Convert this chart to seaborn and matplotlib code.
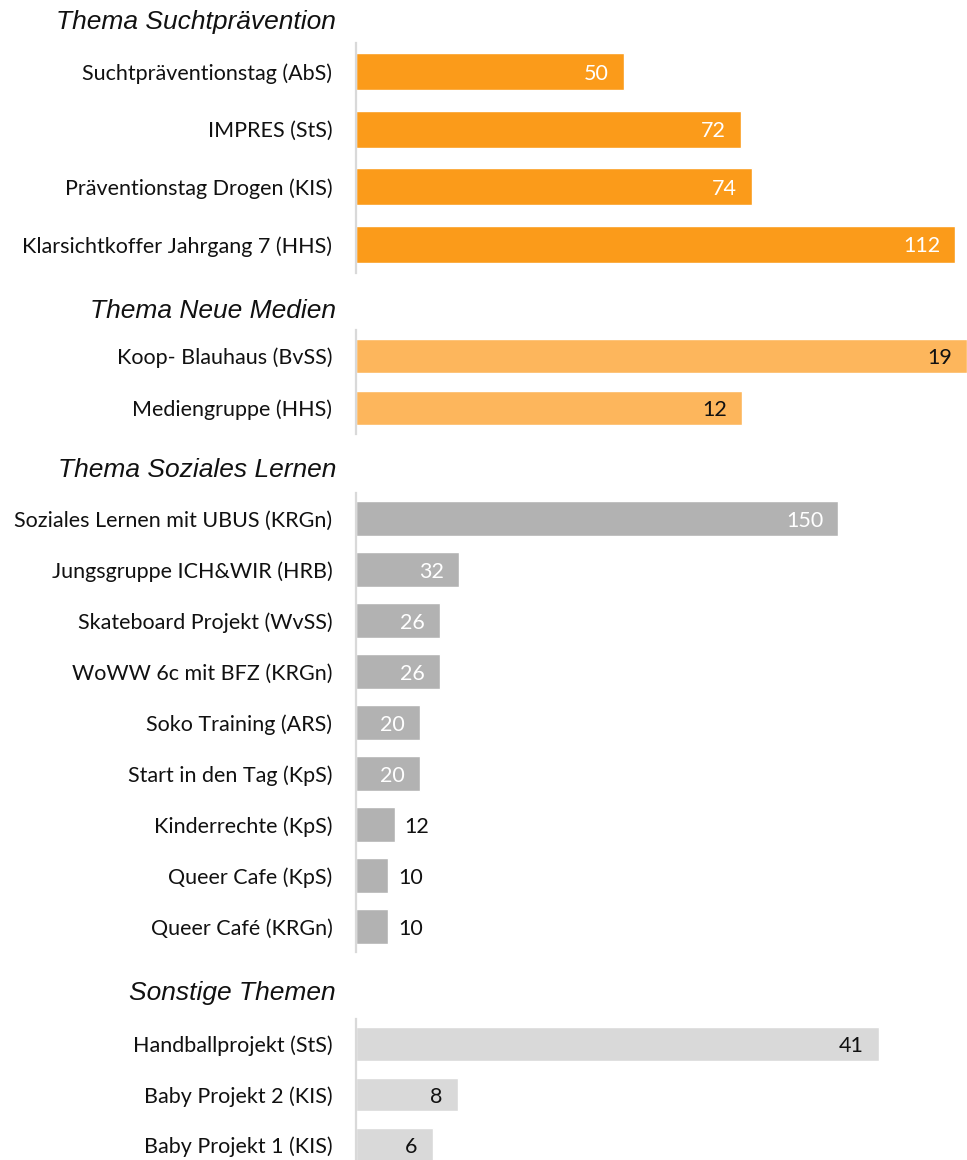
import matplotlib
matplotlib.use("Agg")
import matplotlib.pyplot as plt
import seaborn as sns
import pandas as pd

# ---- data ----
sucht_labels = ["Suchtpräventionstag (AbS)", "IMPRES (StS)", "Präventionstag Drogen (KIS)",
                "Klarsichtkoffer Jahrgang 7 (HHS)"]
sucht_values = [50, 72, 74, 112]

medien_labels = ["Koop- Blauhaus (BvSS)", "Mediengruppe (HHS)"]
medien_values = [19, 12]

sozial_labels = ["Soziales Lernen mit UBUS (KRGn)", "Jungsgruppe ICH&WIR (HRB)",
                 "Skateboard Projekt (WvSS)", "WoWW 6c mit BFZ (KRGn)", "Soko Training (ARS)",
                 "Start in den Tag (KpS)", "Kinderrechte (KpS)", "Queer Cafe (KpS)",
                 "Queer Café (KRGn)"]
sozial_values = [150, 32, 26, 26, 20, 20, 12, 10, 10]

sonst_labels = ["Handballprojekt (StS)", "Baby Projekt 2 (KIS)", "Baby Projekt 1 (KIS)"]
sonst_values = [41, 8, 6]

titles = ["Thema Suchtprävention", "Thema Neue Medien", "Thema Soziales Lernen", "Sonstige Themen"]

sns.set_theme(style="white")
plt.rcParams["font.family"] = ["Lato", "DejaVu Sans"]

W, H = 967, 1160
fig = plt.figure(figsize=(W / 100, H / 100), dpi=100)

LEFT = 356
FS = 15.5

panels = [
    # labels, values, title, color, top, bottom, xmax, bar width, title_y, inside_color, min_inside
    (sucht_labels, sucht_values, titles[0], "#FB9B1A", 43, 273, 114.2, 0.64, 22, "white", 0),
    (medien_labels, medien_values, titles[1], "#FDB65C", 330, 434, 19.0, 0.67, 311, "#111111", 0),
    (sozial_labels, sozial_values, titles[2], "#B2B2B2", 493, 952, 190.0, 0.686, 470, "white", 20),
    (sonst_labels, sonst_values, titles[3], "#D9D9D9", 1019, 1170, 47.9, 0.67, 993, "#111111", 0),
]

for labels, values, title, color, top, bottom, xmax, bw, ty, incol, mininside in panels:
    ax = fig.add_axes([LEFT / W, 1 - bottom / H, (W - LEFT) / W, (bottom - top) / H])
    df = pd.DataFrame({"label": labels, "value": values})
    sns.barplot(data=df, y="label", x="value", orient="h", color=color, width=bw,
                saturation=1, ax=ax)
    ax.set_xlim(0, xmax)
    ax.set_ylim(len(labels) - 0.5, -0.5)
    ax.set_xlabel("")
    ax.set_ylabel("")
    ax.set_xticks([])
    for s in ["top", "right", "bottom"]:
        ax.spines[s].set_visible(False)
    ax.spines["left"].set_color("#D9D9D9")
    ax.spines["left"].set_linewidth(1.6)
    ax.tick_params(axis="y", length=0, pad=17, labelsize=FS, labelcolor="#111111")
    ax.patch.set_alpha(0)
    for i, v in enumerate(values):
        if v >= mininside:
            ax.annotate(str(v), (v, i), xytext=(-11, -1.5), textcoords="offset points",
                        ha="right", va="center", fontsize=FS, color=incol)
        else:
            ax.annotate(str(v), (v, i), xytext=(7, -1.5), textcoords="offset points",
                        ha="left", va="center", fontsize=FS, color="#111111")
    fig.text(336 / W, 1 - ty / H, title, ha="right", va="center", fontsize=19,
             fontstyle="italic", family=["Liberation Sans", "DejaVu Sans"], color="#111111")

fig.savefig("out.png", dpi=100)
